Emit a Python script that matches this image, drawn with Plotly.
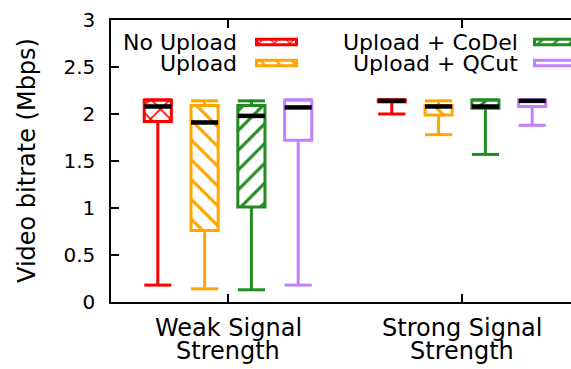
import plotly.graph_objects as go

# Category groups (each label drawn on two lines) and series
group_lines = [["Weak Signal", "Strength"], ["Strong Signal", "Strength"]]
series_names = ["No Upload", "Upload", "Upload + CoDel", "Upload + QCut"]
series_colors = ["#ff0000", "#ffa500", "#228b22", "#c080ff"]
series_patterns = ["x", "\\", "/", ""]

# Box statistics per group: [lower whisker, Q1, median, Q3, upper whisker] (Mbps)
no_upload = [[0.18, 1.92, 2.08, 2.15, 2.15], [2.00, 2.13, 2.14, 2.15, 2.15]]
upload = [[0.14, 0.76, 1.91, 2.09, 2.14], [1.78, 1.99, 2.08, 2.09, 2.14]]
upload_codel = [[0.13, 1.01, 1.98, 2.09, 2.14], [1.57, 2.06, 2.08, 2.15, 2.15]]
upload_qcut = [[0.18, 1.72, 2.07, 2.15, 2.15], [1.88, 2.08, 2.14, 2.15, 2.15]]
series_stats = [no_upload, upload, upload_codel, upload_qcut]

y_ticks = [0, 0.5, 1, 1.5, 2, 2.5, 3]

FONT = "DejaVu Sans"
W, H = 571, 369
L, R, T, B = 111, 0, 20, 67
PLOT_W, PLOT_H = W - L - R, H - T - B
PX_PER_UNIT = 234.0
X0 = 0.5
X1 = X0 + PLOT_W / PX_PER_UNIT

BOX_W = 0.116
STEP = 0.2
LW = 3


def px_x(px):
    """Horizontal pixel position -> paper fraction."""
    return (px - L) / PLOT_W


def px_y(py):
    """Vertical pixel position (from top) -> paper fraction."""
    return (H - B - py) / PLOT_H


def hatch(shape, color, size):
    return dict(shape=shape, fgcolor=color, fgopacity=1, bgcolor="white",
                size=size, solidity=0.22, fillmode="overlay")


fig = go.Figure()

for si, (name, color, pat, stats) in enumerate(
        zip(series_names, series_colors, series_patterns, series_stats)):
    off = (si - 1.5) * STEP
    xs = [gi + 1 + off for gi in range(len(stats))]

    # whiskers and caps
    wx, wy = [], []
    for xc, (lo, q1, med, q3, hi) in zip(xs, stats):
        wx += [xc, xc, None, xc, xc, None,
               xc - BOX_W / 2, xc + BOX_W / 2, None,
               xc - BOX_W / 2, xc + BOX_W / 2, None]
        wy += [q3, hi, None, q1, lo, None, hi, hi, None, lo, lo, None]
    fig.add_trace(go.Scatter(x=wx, y=wy, mode="lines",
                             line=dict(color=color, width=LW),
                             hoverinfo="skip", showlegend=False))

    # boxes
    fig.add_trace(go.Bar(
        x=xs,
        base=[s[1] for s in stats],
        y=[s[3] - s[1] for s in stats],
        width=BOX_W,
        marker=dict(color="white", line=dict(color=color, width=LW),
                    pattern=hatch(pat, color, 14)),
        name=name, showlegend=False, hoverinfo="skip"))

# medians
mx, my = [], []
for si, stats in enumerate(series_stats):
    off = (si - 1.5) * STEP
    for gi, s in enumerate(stats):
        xc = gi + 1 + off
        mx += [xc - BOX_W / 2, xc + BOX_W / 2, None]
        my += [s[2], s[2], None]
fig.add_trace(go.Scatter(x=mx, y=my, mode="lines",
                         line=dict(color="black", width=4.5),
                         hoverinfo="skip", showlegend=False))

# key: swatches placed in pixel space on an overlay axis pair
key_text_right = [239, 239, 520, 520]
key_swatch_x = [256.5, 256.5, 534.5, 534.5]
key_row_y = [42, 63, 42, 63]
SW_W, SW_H = 40, 5.5
for name, color, pat, tx, sx, ry in zip(series_names, series_colors, series_patterns,
                                        key_text_right, key_swatch_x, key_row_y):
    fig.add_trace(go.Bar(
        x=[sx + SW_W / 2], base=[ry - SW_H / 2], y=[SW_H], width=SW_W,
        xaxis="x2", yaxis="y2",
        marker=dict(color="white", line=dict(color=color, width=LW),
                    pattern=hatch(pat, color, 11)),
        showlegend=False, hoverinfo="skip"))
    fig.add_annotation(x=px_x(tx), y=px_y(ry), xref="paper", yref="paper",
                       text=name, showarrow=False, xanchor="right",
                       yanchor="middle",
                       font=dict(family=FONT, size=22, color="black"))

# category labels, two lines each
for gi, lines in enumerate(group_lines):
    for li, line in enumerate(lines):
        fig.add_annotation(x=gi + 1, y=px_y(328 + li * 23), xref="x", yref="paper",
                           text=line, showarrow=False, xanchor="center",
                           yanchor="middle",
                           font=dict(family=FONT, size=24, color="black"))

# y-axis title
fig.add_annotation(x=px_x(27), y=px_y((T + H - B) / 2), xref="paper", yref="paper",
                   text="Video bitrate (Mbps)", textangle=-90, showarrow=False,
                   xanchor="center", yanchor="middle",
                   font=dict(family=FONT, size=24, color="black"))

axis_common = dict(showgrid=False, zeroline=False, showline=True,
                   linecolor="black", linewidth=1.5, ticks="inside",
                   ticklen=8, tickwidth=1.5, tickcolor="black")

fig.update_layout(
    width=W, height=H,
    margin=dict(l=L, r=R, t=T, b=B),
    paper_bgcolor="white", plot_bgcolor="white",
    barmode="overlay", showlegend=False,
    font=dict(family=FONT, color="black"),
    xaxis=dict(range=[X0, X1], tickvals=[1, 2], showticklabels=False,
               mirror="ticks", **axis_common),
    yaxis=dict(range=[0, 3], tickvals=y_ticks,
               ticktext=[f"{v:g}" for v in y_ticks],
               tickfont=dict(family=FONT, size=20, color="black"),
               ticklabelstandoff=10, **axis_common),
    xaxis2=dict(range=[L, W - R], overlaying="x", anchor="y2", visible=False),
    yaxis2=dict(range=[H - B, T], overlaying="y", anchor="x2", visible=False),
)

fig.write_html("out.html")
